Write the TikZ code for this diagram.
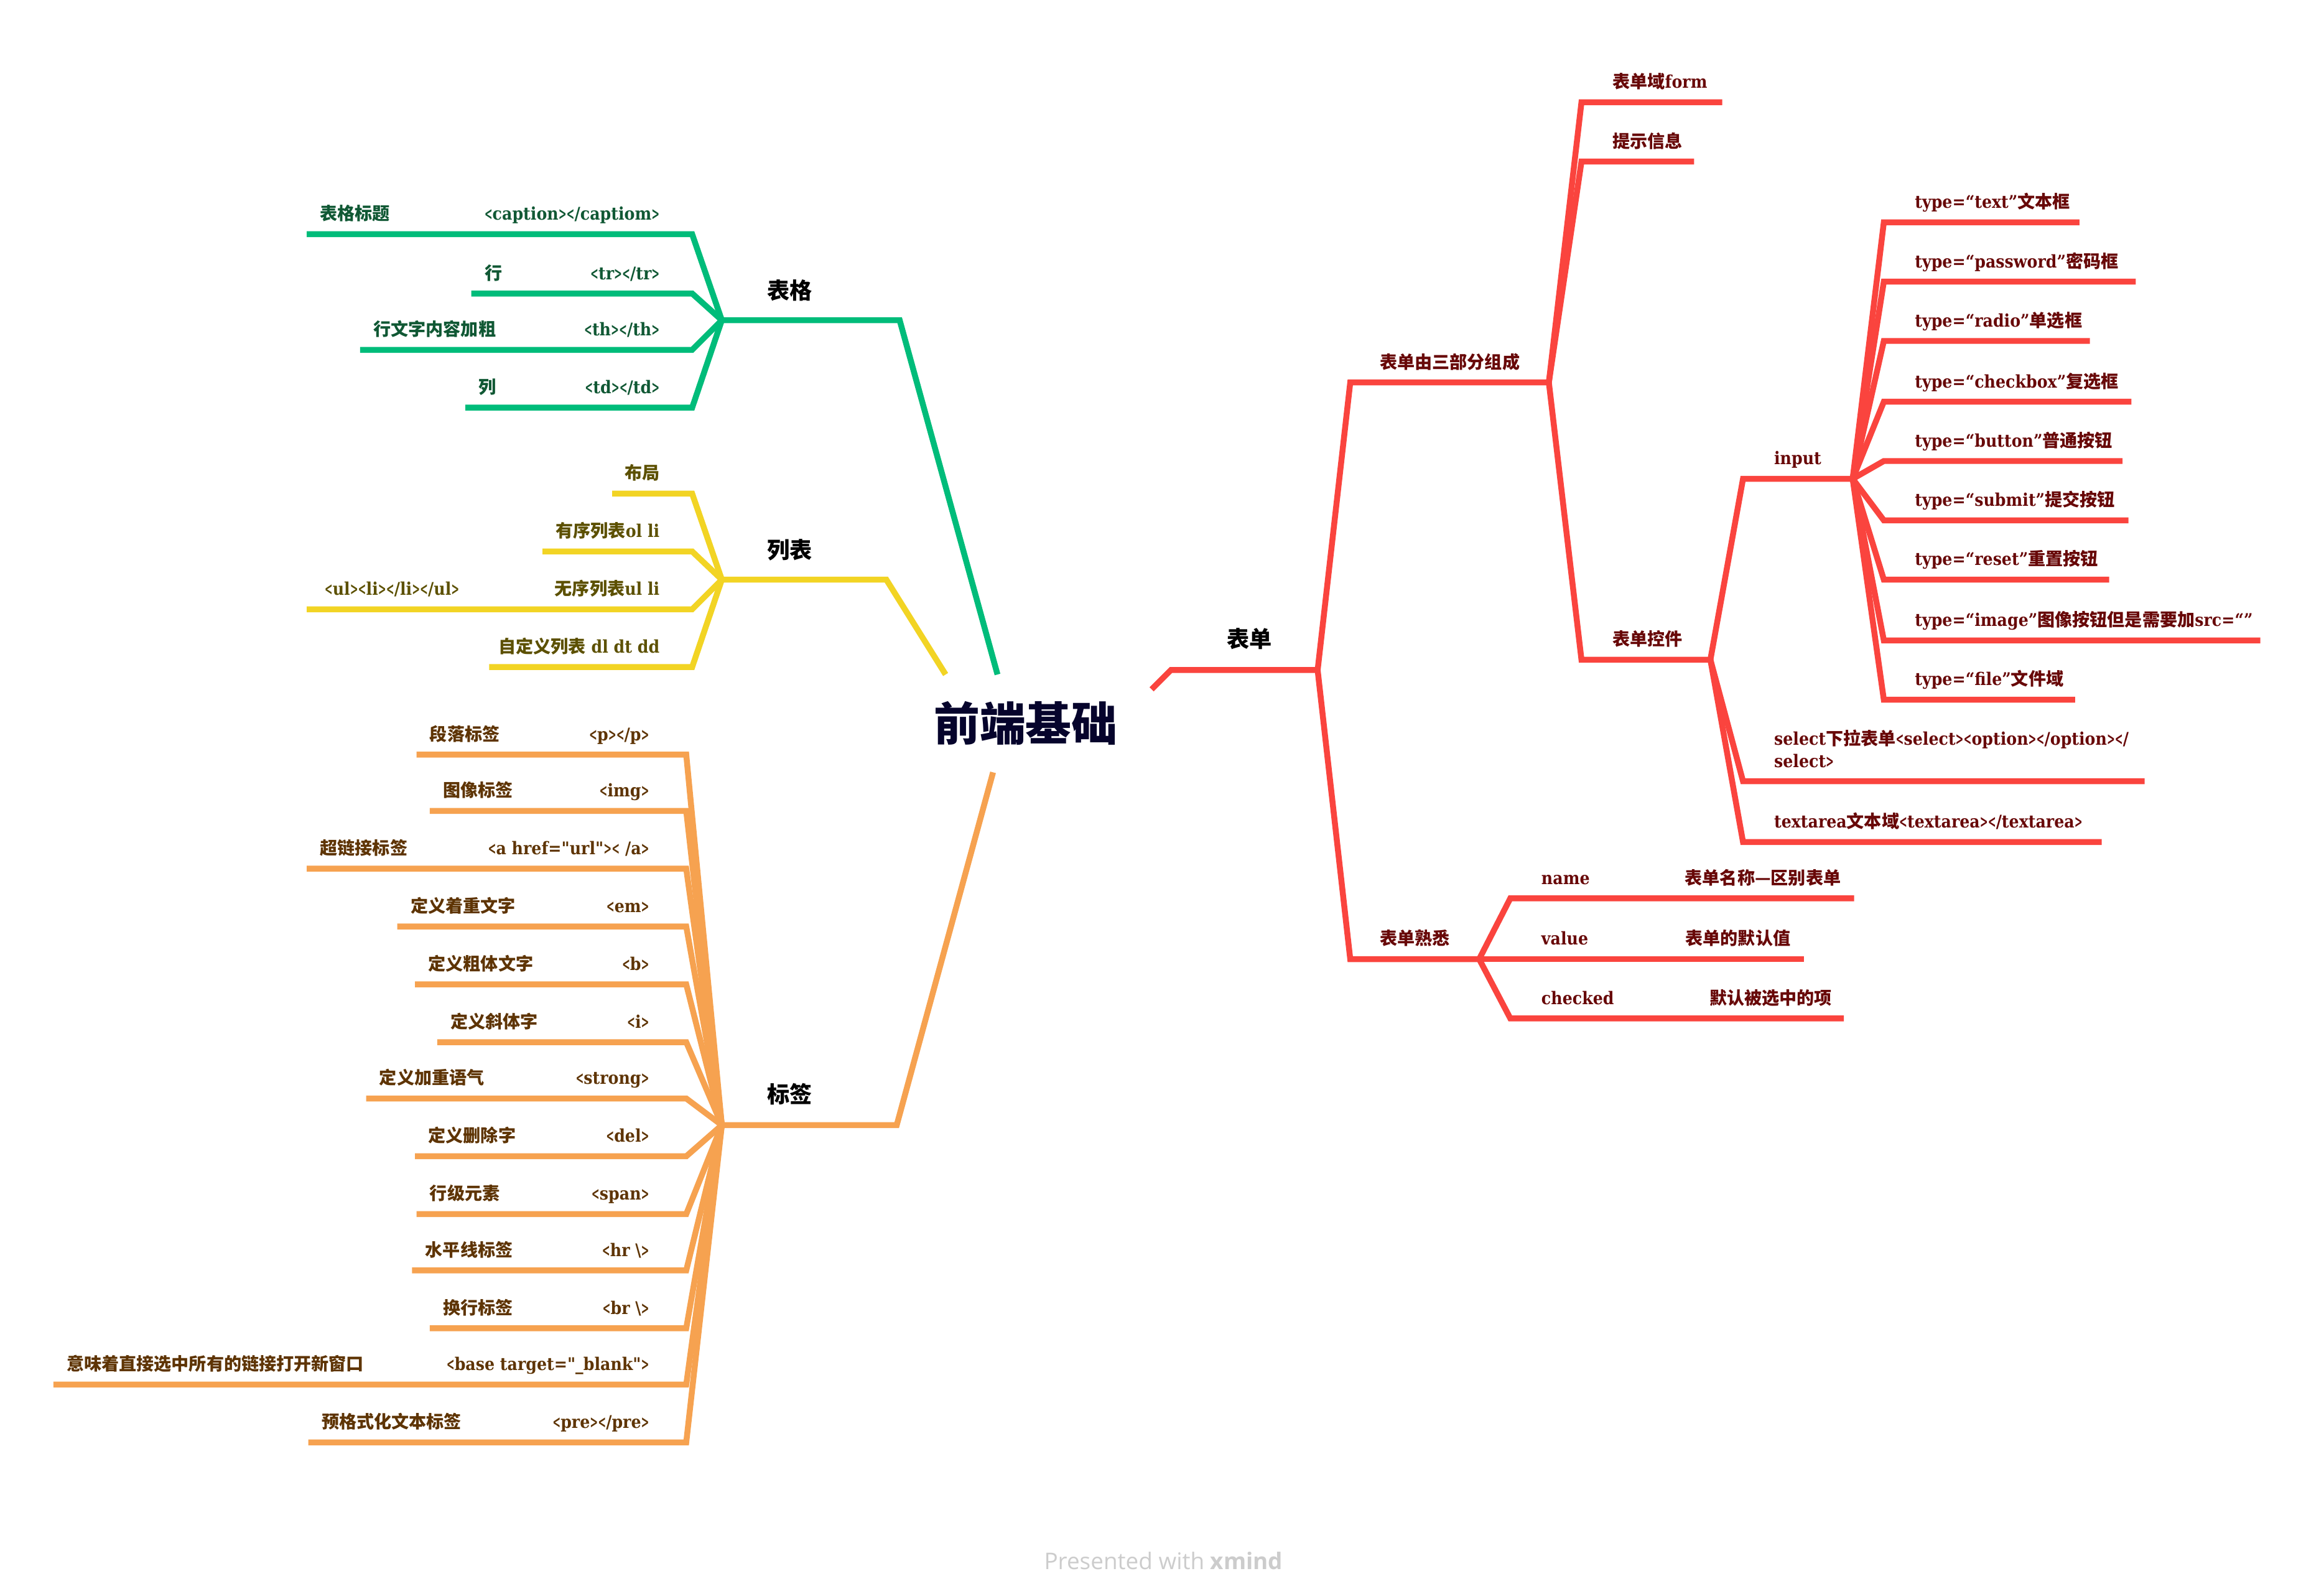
\documentclass[tikz,border=0pt]{standalone}
\usepackage{fontspec}
\newfontfamily\zhfont{Noto Sans CJK SC}
\newfontfamily\latfont{DejaVu Serif}[FakeStretch=0.9]
\newfontfamily\bkfont{DejaVu Serif}[FakeStretch=0.55]
\newfontfamily\wmfont{Open Sans}
\newcommand\zh[1]{{\zhfont\bfseries #1}}
\newcommand\bkl{{\bkfont\bfseries <}}
\newcommand\bkr{{\bkfont\bfseries >}}
\definecolor{cG}{RGB}{0,188,122}
\definecolor{cGt}{RGB}{16,88,52}
\definecolor{cY}{RGB}{242,212,36}
\definecolor{cYt}{RGB}{92,80,0}
\definecolor{cO}{RGB}{246,162,80}
\definecolor{cOt}{RGB}{94,52,4}
\definecolor{cR}{RGB}{250,68,62}
\definecolor{cRt}{RGB}{104,8,8}
\definecolor{cRoot}{RGB}{6,4,44}
\definecolor{cWM}{RGB}{204,204,204}
\newcommand\branch[6]{%
  \coordinate (#1c) at (#4,#5);
  \coordinate (#1e) at (#6,#5);
  \draw[#3] (#2) -- (#1c) -- (#1e);}
\tikzset{
  every node/.style={inner sep=0pt, outer sep=0pt},
  subtext/.style={font=\latfont\bfseries\fontsize{8}{10}\selectfont},
  lvlone/.style={font=\zhfont\bfseries\fontsize{10.3}{12}\selectfont, text=black},
  lineall/.style={line width=2.7pt, line join=miter, line cap=butt},
  gL/.style={lineall, draw=cG}, gT/.style={subtext, text=cGt},
  yL/.style={lineall, draw=cY}, yT/.style={subtext, text=cYt},
  oL/.style={lineall, draw=cO}, oT/.style={subtext, text=cOt},
  rL/.style={lineall, draw=cR}, rT/.style={subtext, text=cRt},
  bw/.style={anchor=base west}, be/.style={anchor=base east},
}
\begin{document}
\begin{tikzpicture}[x=0.023827cm, y=-0.023827cm]
\useasboundingbox (0,0) rectangle (1568,1075);
\fill[white] (0,0) rectangle (1568,1075);

% root
\node[font=\zhfont\bfseries\fontsize{21}{25}\selectfont, text=cRoot] (root) at (692,488) {前端基础};

% ---------- green: 表格
\coordinate (gA) at (673,455);
\coordinate (gB) at (607,216);
\coordinate (gH) at (487,216);
\draw[gL] (gA) -- (gB) -- (gH);
\node[lvlone] (gLab) at (533,196) {表格};
\branch{g1}{gH}{gL}{467}{158}{207}
\node[gT,bw] (g1l) at (216,148.5) {\zh{表格标题}};
\node[gT,be] (g1r) at (445,148.5) {\bkl caption\bkr\bkl/captiom\bkr};
\branch{g2}{gH}{gL}{467}{198}{318}
\node[gT,bw] (g2l) at (327,188.5) {\zh{行}};
\node[gT,be] (g2r) at (445,188.5) {\bkl tr\bkr\bkl/tr\bkr};
\branch{g3}{gH}{gL}{467}{236}{243}
\node[gT,bw] (g3l) at (252,226.5) {\zh{行文字内容加粗}};
\node[gT,be] (g3r) at (445,226.5) {\bkl th\bkr\bkl/th\bkr};
\branch{g4}{gH}{gL}{467}{275}{314}
\node[gT,bw] (g4l) at (323,265.5) {\zh{列}};
\node[gT,be] (g4r) at (445,265.5) {\bkl td\bkr\bkl/td\bkr};

% ---------- yellow: 列表
\coordinate (yA) at (638,455);
\coordinate (yB) at (598,391);
\coordinate (yH) at (487,391);
\draw[yL] (yA) -- (yB) -- (yH);
\node[lvlone] (yLab) at (533,371) {列表};
\branch{y1}{yH}{yL}{467}{333}{413}
\node[yT,be] (y1r) at (445,323.5) {\zh{布局}};
\branch{y2}{yH}{yL}{467}{372}{366}
\node[yT,be] (y2r) at (445,362.5) {\zh{有序列表}ol li};
\branch{y3}{yH}{yL}{467}{411}{207}
\node[yT,bw] (y3l) at (219,401.5) {\bkl ul\bkr\bkl li\bkr\bkl/li\bkr\bkl/ul\bkr};
\node[yT,be] (y3r) at (445,401.5) {\zh{无序列表}ul li};
\branch{y4}{yH}{yL}{467}{450}{330}
\node[yT,be] (y4r) at (445,440.5) {\zh{自定义列表} dl dt dd};

% ---------- orange: 标签
\coordinate (oA) at (670,521);
\coordinate (oB) at (605,759);
\coordinate (oH) at (487,759);
\draw[oL] (oA) -- (oB) -- (oH);
\node[lvlone] (oLab) at (533,738) {标签};
\branch{o1}{oH}{oL}{463}{509}{281}
\node[oT,bw] (o1l) at (290,499.5) {\zh{段落标签}};
\node[oT,be] (o1r) at (438,499.5) {\bkl p\bkr\bkl/p\bkr};
\branch{o2}{oH}{oL}{463}{547}{290}
\node[oT,bw] (o2l) at (299,537.5) {\zh{图像标签}};
\node[oT,be] (o2r) at (438,537.5) {\bkl img\bkr};
\branch{o3}{oH}{oL}{463}{586}{207}
\node[oT,bw] (o3l) at (216,576.5) {\zh{超链接标签}};
\node[oT,be] (o3r) at (438,576.5) {\bkl a href="url"\bkr\bkl\ /a\bkr};
\branch{o4}{oH}{oL}{463}{625}{268}
\node[oT,bw] (o4l) at (277,615.5) {\zh{定义着重文字}};
\node[oT,be] (o4r) at (438,615.5) {\bkl em\bkr};
\branch{o5}{oH}{oL}{463}{664}{280}
\node[oT,bw] (o5l) at (289,654.5) {\zh{定义粗体文字}};
\node[oT,be] (o5r) at (438,654.5) {\bkl b\bkr};
\branch{o6}{oH}{oL}{463}{703}{295}
\node[oT,bw] (o6l) at (304,693.5) {\zh{定义斜体字}};
\node[oT,be] (o6r) at (438,693.5) {\bkl i\bkr};
\branch{o7}{oH}{oL}{463}{741}{247}
\node[oT,bw] (o7l) at (256,731.5) {\zh{定义加重语气}};
\node[oT,be] (o7r) at (438,731.5) {\bkl strong\bkr};
\branch{o8}{oH}{oL}{463}{780}{280}
\node[oT,bw] (o8l) at (289,770.5) {\zh{定义删除字}};
\node[oT,be] (o8r) at (438,770.5) {\bkl del\bkr};
\branch{o9}{oH}{oL}{463}{819}{281}
\node[oT,bw] (o9l) at (290,809.5) {\zh{行级元素}};
\node[oT,be] (o9r) at (438,809.5) {\bkl span\bkr};
\branch{o10}{oH}{oL}{463}{857}{278}
\node[oT,bw] (o10l) at (287,847.5) {\zh{水平线标签}};
\node[oT,be] (o10r) at (438,847.5) {\bkl hr \textbackslash\bkr};
\branch{o11}{oH}{oL}{463}{896}{290}
\node[oT,bw] (o11l) at (299,886.5) {\zh{换行标签}};
\node[oT,be] (o11r) at (438,886.5) {\bkl br \textbackslash\bkr};
\branch{o12}{oH}{oL}{463}{934}{36}
\node[oT,bw] (o12l) at (45,924.5) {\zh{意味着直接选中所有的链接打开新窗口}};
\node[oT,be] (o12r) at (438,924.5) {\bkl base target="\_blank"\bkr};
\branch{o13}{oH}{oL}{463}{973}{208}
\node[oT,bw] (o13l) at (217,963.5) {\zh{预格式化文本标签}};
\node[oT,be] (o13r) at (438,963.5) {\bkl pre\bkr\bkl/pre\bkr};

% ---------- red: 表单
\coordinate (rA) at (777,465);
\coordinate (rB) at (790,452);
\coordinate (rH) at (889,452);
\draw[rL] (rA) -- (rB) -- (rH);
\node[lvlone] (rLab) at (843,431) {表单};
\branch{r1}{rH}{rL}{911}{258}{1045}
\node[rT,bw] (r1l) at (931,248.5) {\zh{表单由三部分组成}};
\branch{r2}{rH}{rL}{911}{647}{998}
\node[rT,bw] (r2l) at (931,637.5) {\zh{表单熟悉}};
% 表单由三部分组成 children
\branch{r11}{r1e}{rL}{1067}{69}{1162}
\node[rT,bw] (r11l) at (1088,59.5) {\zh{表单域}form};
\branch{r12}{r1e}{rL}{1067}{109}{1143}
\node[rT,bw] (r12l) at (1088,99.5) {\zh{提示信息}};
\branch{r13}{r1e}{rL}{1067}{445}{1154}
\node[rT,bw] (r13l) at (1088,435.5) {\zh{表单控件}};
% 表单控件 children
\branch{r131}{r13e}{rL}{1176}{323}{1250}
\node[rT,bw] (r131l) at (1197,313.5) {input};
\branch{r132}{r13e}{rL}{1176}{527}{1447}
\node[rT,bw] (r132l) at (1197,502.5) {select\zh{下拉表单}\bkl select\bkr\bkl option\bkr\bkl/option\bkr\bkl/};
\node[rT,bw] (r132m) at (1197,517.5) {select\bkr};
\branch{r133}{r13e}{rL}{1176}{568}{1418}
\node[rT,bw] (r133l) at (1197,558.5) {textarea\zh{文本域}\bkl textarea\bkr\bkl/textarea\bkr};
% input children
\branch{i1}{r131e}{rL}{1271}{150}{1403}
\node[rT,bw] (i1l) at (1292,140.5) {type=“text”\zh{文本框}};
\branch{i2}{r131e}{rL}{1271}{190}{1441}
\node[rT,bw] (i2l) at (1292,180.5) {type=“password”\zh{密码框}};
\branch{i3}{r131e}{rL}{1271}{230}{1410}
\node[rT,bw] (i3l) at (1292,220.5) {type=“radio”\zh{单选框}};
\branch{i4}{r131e}{rL}{1271}{271}{1438}
\node[rT,bw] (i4l) at (1292,261.5) {type=“checkbox”\zh{复选框}};
\branch{i5}{r131e}{rL}{1271}{311}{1432}
\node[rT,bw] (i5l) at (1292,301.5) {type=“button”\zh{普通按钮}};
\branch{i6}{r131e}{rL}{1271}{351}{1436}
\node[rT,bw] (i6l) at (1292,341.5) {type=“submit”\zh{提交按钮}};
\branch{i7}{r131e}{rL}{1271}{391}{1423}
\node[rT,bw] (i7l) at (1292,381.5) {type=“reset”\zh{重置按钮}};
\branch{i8}{r131e}{rL}{1271}{432}{1525}
\node[rT,bw] (i8l) at (1292,422.5) {type=“image”\zh{图像按钮但是需要加}src=“”};
\branch{i9}{r131e}{rL}{1271}{472}{1400}
\node[rT,bw] (i9l) at (1292,462.5) {type=“file”\zh{文件域}};
% 表单熟悉 children
\branch{r21}{r2e}{rL}{1019}{606}{1251}
\node[rT,bw] (r21l) at (1040,596.5) {name};
\node[rT,be] (r21r) at (1242,596.5) {\zh{表单名称—区别表单}};
\branch{r22}{r2e}{rL}{1019}{647}{1217}
\node[rT,bw] (r22l) at (1040,637.5) {value};
\node[rT,be] (r22r) at (1208,637.5) {\zh{表单的默认值}};
\branch{r23}{r2e}{rL}{1019}{687}{1244}
\node[rT,bw] (r23l) at (1040,677.5) {checked};
\node[rT,be] (r23r) at (1236,677.5) {\zh{默认被选中的项}};

% watermark
\node[font=\wmfont\fontsize{10.5}{12}\selectfont, text=cWM] (wm) at (785,1053) {Presented with \textbf{xmind}};
\end{tikzpicture}
\end{document}
